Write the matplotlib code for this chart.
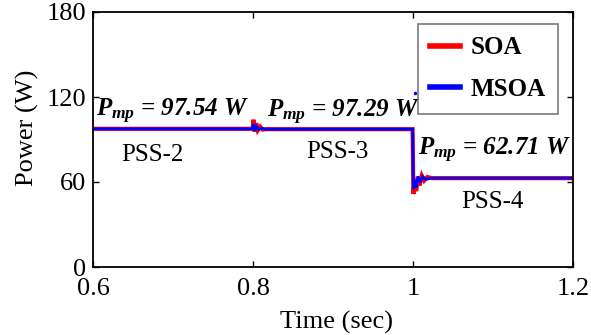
import matplotlib
matplotlib.use("Agg")
import matplotlib.pyplot as plt

# ---------------------------------------------
# Data
# ---------------------------------------------
soa_t = [0.6, 0.7995, 0.8005, 0.802, 0.804, 0.806, 0.809, 0.812, 0.816,
         0.9995, 1.0005, 1.002, 1.004, 1.006, 1.008, 1.011, 1.014, 1.018, 1.024, 1.2]
soa_p = [97.54, 97.54, 104.0, 95.5, 101.5, 96.5, 99.0, 97.0, 97.29,
         97.29, 51.5, 60.0, 53.5, 63.5, 57.5, 64.5, 61.0, 63.5, 62.71, 62.71]

msoa_t = [0.6, 0.7995, 0.8005, 0.802, 0.804, 0.807, 0.811, 0.816,
          0.9995, 1.0005, 1.002, 1.004, 1.006, 1.009, 1.012, 1.016, 1.022, 1.2]
msoa_p = [97.54, 97.54, 101.0, 96.0, 99.5, 96.8, 98.0, 97.29,
          97.29, 55.0, 61.5, 56.0, 64.0, 59.5, 63.8, 61.8, 62.71, 62.71]

msoa_stray_t = [1.002]
msoa_stray_p = [123.0]

pmp_labels = ["97.54", "97.29", "62.71"]
pss_labels = ["PSS-2", "PSS-3", "PSS-4"]

xticks = [0.6, 0.8, 1.0, 1.2]
xtick_labels = ["0.6", "0.8", "1", "1.2"]
yticks = [0, 60, 120, 180]

# ---------------------------------------------
# Style
# ---------------------------------------------
plt.rcParams["font.family"] = ["Liberation Serif", "DejaVu Serif"]
plt.rcParams["mathtext.fontset"] = "custom"
plt.rcParams["mathtext.it"] = "Liberation Serif:italic:bold"
plt.rcParams["mathtext.rm"] = "Liberation Serif:bold"
plt.rcParams["mathtext.bf"] = "Liberation Serif:bold"

fig = plt.figure(figsize=(5.91, 3.35), dpi=100)
ax = fig.add_axes([93 / 591, (335 - 267) / 335, 480 / 591, 255 / 335])

ax.plot(soa_t, soa_p, color="red", lw=3.0, label="SOA", solid_joinstyle="miter")
ax.plot(msoa_t, msoa_p, color="blue", lw=2.0, label="MSOA", solid_joinstyle="miter")
ax.plot(msoa_stray_t, msoa_stray_p, ls="none", marker="o", ms=1.5, color="blue")

ax.set_xlim(0.6, 1.2)
ax.set_ylim(0, 180)
ax.set_xticks(xticks)
ax.set_xticklabels(xtick_labels)
ax.set_yticks(yticks)
ax.tick_params(direction="in", top=True, right=True, labelsize=19, length=4, width=1)
ax.tick_params(axis="x", pad=8)
ax.tick_params(axis="y", pad=5)
for s in ax.spines.values():
    s.set_linewidth(1.3)

ax.set_xlabel("Time (sec)", fontsize=19)
ax.set_ylabel("Power (W)", fontsize=19)
ax.xaxis.label.set_va("center")
ax.yaxis.label.set_va("center")
ax.xaxis.set_label_coords(0.508, -(322 - 267) / 255)
ax.yaxis.set_label_coords((27 - 93) / 480, (267 - 128) / 255)

# P_mp annotations
pmp_pos = [(0.604, 110), (0.817, 109), (1.006, 82)]
for (x, y), val in zip(pmp_pos, pmp_labels):
    ax.text(x, y, r"$P_{mp}$ = " + val + " W", fontsize=18, fontweight="bold",
            fontstyle="italic", ha="left", va="center")

pss_pos = [(0.674, 79), (0.906, 81), (1.099, 46)]
for (x, y), lab in zip(pss_pos, pss_labels):
    ax.text(x, y, lab, fontsize=18, ha="center", va="center")

leg = ax.legend(loc="upper right", bbox_to_anchor=(0.969, 0.953),
                prop={"weight": "bold", "size": 18}, frameon=True, fancybox=False,
                handlelength=1.2, handletextpad=0.4, labelspacing=0.75,
                borderpad=0.5, borderaxespad=0, edgecolor="0.35")
for line in leg.get_lines():
    line.set_linewidth(4)
leg.get_frame().set_linewidth(1.2)

plt.savefig("out.png", dpi=100)
